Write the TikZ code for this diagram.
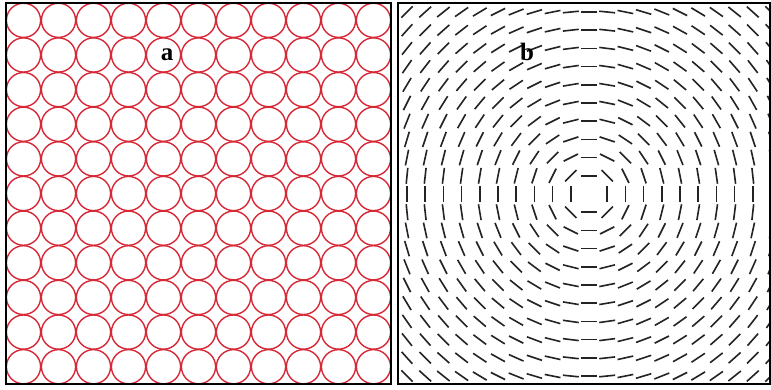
\documentclass[tikz,border=0pt]{standalone}
\usepackage{fontspec}
\setmainfont{Liberation Serif}
\definecolor{ringred}{RGB}{215,40,55}
\definecolor{dashgray}{RGB}{35,35,35}
\tikzset{
  circ/.style={draw=ringred, line width=1.4pt},
  framebox/.style={draw=black, line width=2.4pt},
  dashline/.style={draw=dashgray, line width=1.6pt},
  panellabel/.style={inner sep=0pt, font=\fontsize{25}{25}\selectfont\bfseries}
}
\begin{document}
\begin{tikzpicture}[x=1pt,y=-1pt]
\useasboundingbox (0,0) rectangle (771,389);
\fill[white] (0,0) rectangle (771,389);
% panel a
\foreach \i in {0,...,10}{
  \foreach \j in {0,...,10}{
    \draw[circ] ({6+35*(\i+0.5)},{3+34.64*(\j+0.5)}) circle[radius=17.1pt];
  }
}
\draw[framebox] (6,3) rectangle (391,384);
\node[panellabel] (la) at (167,55) {a};
% panel b
\begin{scope}
\clip (399,4) rectangle (769,383);
\foreach \i in {-11,...,11}{
  \foreach \j in {-11,...,11}{
    \pgfmathtruncatemacro{\ok}{abs(\i)+abs(\j)}
    \ifnum\ok>0
      \pgfmathsetmacro{\r}{veclen(\i,\j)}
      \pgfmathsetmacro{\ux}{-8*\j/\r}
      \pgfmathsetmacro{\uy}{8*\i/\r}
      \draw[dashline] ({589+18.2*\i-\ux},{194+18.2*\j-\uy}) -- ({589+18.2*\i+\ux},{194+18.2*\j+\uy});
    \fi
  }
}
\end{scope}
\draw[framebox] (398,3) rectangle (770,384);
\node[panellabel] (lb) at (527,52) {b};
\end{tikzpicture}
\end{document}
